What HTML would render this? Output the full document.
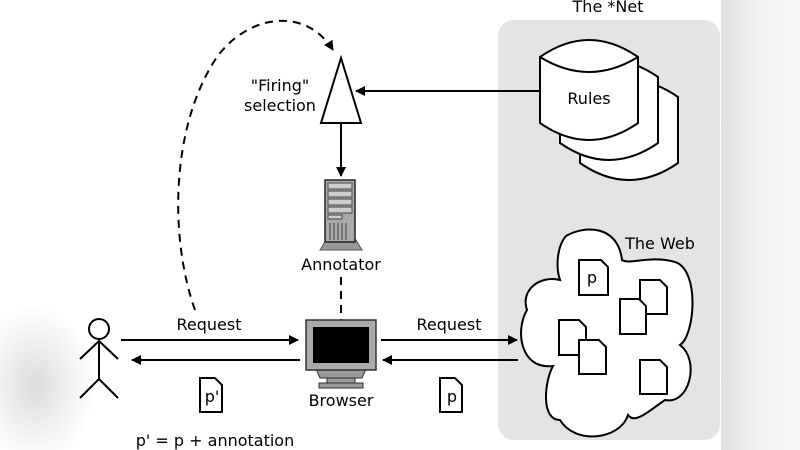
<!DOCTYPE html>
<html><head><meta charset="utf-8"><style>
html,body{margin:0;padding:0;background:#fff;}
svg{display:block;font-family:"DejaVu Sans","Liberation Sans",sans-serif;}
</style></head><body>
<svg width="800" height="450" viewBox="0 0 800 450" xmlns="http://www.w3.org/2000/svg">
<defs>
<radialGradient id="g1" cx="0.5" cy="0.5" r="0.5"><stop offset="0" stop-color="#dcdcdc"/><stop offset="1" stop-color="#fff"/></radialGradient>
<linearGradient id="g2" x1="0" x2="1"><stop offset="0" stop-color="#e0e0e0"/><stop offset="0.5" stop-color="#f2f2f2"/><stop offset="1" stop-color="#f8f8f8"/></linearGradient>
<marker id="ah" markerWidth="10" markerHeight="10" refX="9" refY="5" orient="auto" markerUnits="userSpaceOnUse"><path d="M0,0 L10,5 L0,10 z" fill="#000"/></marker>
</defs>
<rect x="721" y="0" width="79" height="450" fill="url(#g2)"/>
<ellipse cx="35" cy="385" rx="60" ry="80" fill="url(#g1)"/>
<rect x="498" y="20" width="222" height="420" rx="16" fill="#e4e4e4"/>
<g font-size="16" text-anchor="middle">
<text x="608" y="12">The *Net</text>
</g>
<g fill="#fff" stroke="#000" stroke-width="2">
<path d="M580,97 Q629,63 678,97 L678,163 Q629,197 580,163 Z"/>
<path d="M560,77 Q609,43 658,77 L658,143 Q609,177 560,143 Z"/>
<path d="M540,57 Q589,23 638,57 L638,123 Q589,157 540,123 Z"/>
<path d="M540,57 Q589,87 638,57" fill="none"/>
</g>
<text x="589" y="104" font-size="16" text-anchor="middle">Rules</text>
<line x1="540" y1="91" x2="356" y2="91" stroke="#000" stroke-width="2" marker-end="url(#ah)"/>
<polygon points="341,58 321,123 361,123" fill="#fff" stroke="#000" stroke-width="2"/>
<text x="280" y="91" font-size="16" text-anchor="middle">"Firing"</text>
<text x="280" y="111" font-size="16" text-anchor="middle">selection</text>
<line x1="341" y1="123" x2="341" y2="176" stroke="#000" stroke-width="2" marker-end="url(#ah)"/>
<path d="M195,310 C170,240 170,130 215,60 C245,15 305,5 333,50" fill="none" stroke="#000" stroke-width="2" stroke-dasharray="8,6" marker-end="url(#ah)"/>
<polygon points="326,240 356,240 362,250 320,250" fill="#999" stroke="#555"/>
<rect x="325" y="180" width="30" height="62" fill="#aaa" stroke="#222" stroke-width="1.5"/>
<g stroke="#444" fill="#ccc" stroke-width="1"><rect x="328" y="183" width="24" height="6"/><rect x="328" y="191" width="24" height="6"/><rect x="328" y="199" width="24" height="6"/><rect x="328" y="207" width="24" height="6"/><rect x="328" y="215" width="14" height="4"/></g>
<g stroke="#444"><line x1="330" y1="223" x2="330" y2="240"/><line x1="334" y1="223" x2="334" y2="240"/><line x1="338" y1="223" x2="338" y2="240"/><line x1="342" y1="223" x2="342" y2="240"/><line x1="346" y1="223" x2="346" y2="240"/></g>
<text x="341" y="270" font-size="16" text-anchor="middle">Annotator</text>
<line x1="341" y1="277" x2="341" y2="320" stroke="#000" stroke-width="2" stroke-dasharray="8,6"/>
<polygon points="316,369 366,369 362,378 320,378" fill="#999" stroke="#333"/>
<rect x="327" y="378" width="28" height="5" fill="#999" stroke="#333"/>
<rect x="319" y="383" width="44" height="5" fill="#999" stroke="#333"/>
<rect x="306" y="320" width="70" height="50" fill="#aaa" stroke="#333" stroke-width="1.5"/>
<rect x="313" y="327" width="56" height="36" fill="#000"/>
<text x="341" y="406" font-size="16" text-anchor="middle">Browser</text>
<g stroke="#000" stroke-width="2" fill="none">
<circle cx="99" cy="329" r="10"/>
<line x1="99" y1="339" x2="99" y2="379"/>
<line x1="80" y1="359" x2="99" y2="341"/><line x1="118" y1="359" x2="99" y2="341"/>
<line x1="80" y1="398" x2="99" y2="379"/><line x1="118" y1="398" x2="99" y2="379"/>
</g>
<line x1="121" y1="340" x2="298" y2="340" stroke="#000" stroke-width="2" marker-end="url(#ah)"/>
<line x1="300" y1="360" x2="132" y2="360" stroke="#000" stroke-width="2" marker-end="url(#ah)"/>
<text x="209" y="330" font-size="16" text-anchor="middle">Request</text>
<line x1="381" y1="340" x2="517" y2="340" stroke="#000" stroke-width="2" marker-end="url(#ah)"/>
<line x1="518" y1="360" x2="383" y2="360" stroke="#000" stroke-width="2" marker-end="url(#ah)"/>
<text x="449" y="330" font-size="16" text-anchor="middle">Request</text>
<g fill="#fff" stroke="#000" stroke-width="2">
<path d="M200,378 L215,378 L222,385 L222,412 L200,412 Z"/>
<path d="M440,378 L455,378 L462,385 L462,412 L440,412 Z"/>
</g>
<text x="212" y="402" font-size="16" text-anchor="middle">p'</text>
<text x="452" y="402" font-size="16" text-anchor="middle">p</text>
<text x="215" y="446" font-size="16" text-anchor="middle">p' = p + annotation</text>
<path d="M566,236 C585,225 618,225 622,260 C630,265 650,255 675,262 C700,270 695,335 680,345 C700,360 690,405 665,400 C650,410 635,425 628,415 C620,440 575,445 560,420 C540,420 545,380 553,366 C520,370 515,330 527,310 C520,290 540,275 560,280 C555,265 558,245 566,236 Z" fill="#fff" stroke="#000" stroke-width="2"/>
<text x="660" y="249" font-size="16" text-anchor="middle">The Web</text>
<g fill="#fff" stroke="#000" stroke-width="2">
<path d="M579,260 L601,260 L608,267 L608,295 L579,295 Z"/>
<path d="M640,280 L660,280 L667,287 L667,314 L640,314 Z"/>
<path d="M620,299 L639,299 L646,306 L646,334 L620,334 Z"/>
<path d="M559,320 L579,320 L586,327 L586,355 L559,355 Z"/>
<path d="M579,340 L599,340 L606,347 L606,374 L579,374 Z"/>
<path d="M640,360 L660,360 L667,367 L667,394 L640,394 Z"/>
</g>
<text x="592" y="283" font-size="16" text-anchor="middle">p</text>
</svg>
</body></html>
